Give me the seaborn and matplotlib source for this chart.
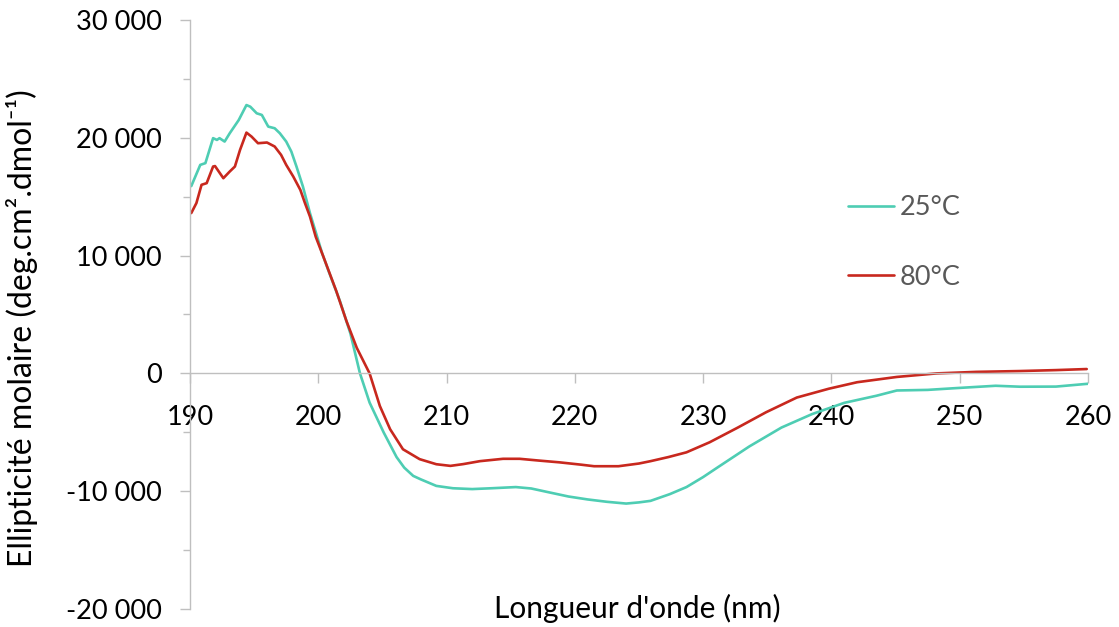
import numpy as np
import pandas as pd
import matplotlib
matplotlib.use("Agg")
import matplotlib.pyplot as plt
import seaborn as sns
from matplotlib.ticker import MultipleLocator, FuncFormatter

# ---- data ----
wl_25 = [190.1, 190.8, 191.2, 191.8, 192.1, 192.3, 192.7, 193.1, 193.8, 194.4,
         194.7, 195.2, 195.6, 196.1, 196.6, 197.0, 197.5, 197.9, 198.3, 198.8,
         199.35, 199.8, 200.3, 200.8, 201.7, 202.5, 203.25, 204.0, 205.1, 206.1,
         206.7, 207.4, 208.0, 209.2, 210.5, 212.0, 213.5, 215.4, 216.6, 218.0,
         219.5, 221.0, 222.5, 224.0, 225.0, 225.9, 227.4, 228.7, 230.0, 231.1,
         233.6, 236.1, 238.5, 241.0, 243.5, 245.1, 247.5, 249.7, 252.8, 254.7,
         257.5, 260.0]
ell_25 = [15900, 17700, 17850, 19970, 19820, 19970, 19680, 20390, 21510, 22780,
          22640, 22080, 21940, 20950, 20810, 20390, 19680, 18830, 17560, 15870,
          13610, 12000, 10200, 8700, 6100, 3400, 0, -2480, -5020, -7100,
          -8000, -8700, -9000, -9550, -9750, -9820, -9750, -9650, -9770, -10100,
          -10450, -10700, -10900, -11050, -10950, -10820, -10250, -9650, -8800, -8000,
          -6200, -4600, -3450, -2500, -1900, -1450, -1400, -1250, -1050, -1130,
          -1120, -880]

wl_80 = [190.1, 190.5, 190.9, 191.3, 191.8, 191.95, 192.6, 193.1, 193.5, 193.9,
         194.4, 194.8, 195.3, 196.0, 196.6, 197.1, 197.5, 198.05, 198.6, 198.96,
         199.35, 199.8, 200.4, 201.4, 202.2, 203.0, 204.0, 204.8, 205.6, 206.6,
         207.9, 209.2, 210.3, 211.3, 212.6, 214.4, 215.7, 217.2, 218.8, 220.5,
         221.5, 223.4, 225.0, 225.9, 227.3, 228.7, 230.5, 232.7, 234.9, 237.3,
         239.8, 242.0, 245.1, 248.2, 251.3, 254.7, 257.5, 259.9]
ell_80 = [13610, 14460, 16010, 16150, 17560, 17600, 16570, 17140, 17560, 18970,
          20440, 20100, 19540, 19600, 19260, 18550, 17700, 16710, 15580, 14460,
          13320, 11600, 9900, 7000, 4430, 2170, 0, -2770, -4740, -6440,
          -7280, -7710, -7850, -7700, -7450, -7250, -7250, -7400, -7550, -7750,
          -7880, -7880, -7650, -7450, -7100, -6700, -5850, -4600, -3300, -2050,
          -1300, -750, -300, 0, 130, 200, 280, 370]

labels = ["25°C", "80°C"]
x_ticks = [190, 200, 210, 220, 230, 240, 250, 260]
y_ticks = [-20000, -10000, 0, 10000, 20000, 30000]

df = pd.concat([
    pd.DataFrame({"wl": wl_25, "ell": ell_25, "temp": labels[0]}),
    pd.DataFrame({"wl": wl_80, "ell": ell_80, "temp": labels[1]}),
])

sns.set_theme(style="white")
plt.rcParams['font.family'] = ['Lato', 'DejaVu Sans']

fig = plt.figure(figsize=(11.19, 6.27), dpi=100)
ax = fig.add_axes([190/1119, 1-609/627, (1088-190)/1119, (609-20)/627])

palette = {labels[0]: "#4ECDB3", labels[1]: "#C8281E"}
sns.lineplot(data=df, x="wl", y="ell", hue="temp", palette=palette,
             linewidth=1.9, ax=ax, sort=False, estimator=None, legend=False)

ax.set_xlim(190, 260)
ax.set_ylim(-20000, 30000)
ax.set_xticks(x_ticks)
ax.set_yticks(y_ticks)
ax.yaxis.set_minor_locator(MultipleLocator(5000))
ax.yaxis.set_major_formatter(FuncFormatter(lambda v, p: f"{int(v):,}".replace(",", " ")))

axis_col = "#BFBFBF"
for s in ["top", "right"]:
    ax.spines[s].set_visible(False)
ax.spines["left"].set_color(axis_col)
ax.spines["bottom"].set_color(axis_col)
ax.spines["left"].set_linewidth(1.0)
ax.spines["bottom"].set_linewidth(1.0)
ax.spines["bottom"].set_position(("data", 0))

ax.tick_params(axis="y", which="major", direction="out", length=7.5, width=1.0,
               color=axis_col, labelsize=19.5, labelcolor="#000000", pad=13, left=True)
ax.tick_params(axis="y", which="minor", direction="out", length=5, width=1.0,
               color=axis_col, left=True)
ax.tick_params(axis="x", which="major", direction="out", length=7.5, width=1.0,
               color=axis_col, labelsize=19.5, labelcolor="#000000", pad=15, bottom=True)

ax.set_xlabel("")
ax.set_ylabel("")
fig.text((490+785)/2/1119, 1-608/627, "Longueur d'onde (nm)", ha="center", va="center",
         fontsize=21.5, color="#000000")
fig.text(22/1119, 1-(85+572)/2/627, "Ellipticité molaire (deg.cm².dmol⁻¹)",
         rotation=90, ha="center", va="center", fontsize=23, color="#000000")

# legend
handles = [plt.Line2D([], [], color=palette[l], linewidth=1.9) for l in labels]
leg = fig.legend(handles, labels, loc="center left",
                 bbox_to_anchor=(848/1119, 1-242.5/627), frameon=False,
                 fontsize=19.5, handlelength=1.7, handletextpad=0.2,
                 labelspacing=1.65, borderpad=0, borderaxespad=0)
for t in leg.get_texts():
    t.set_color("#595959")

fig.savefig("out.png", dpi=100)
